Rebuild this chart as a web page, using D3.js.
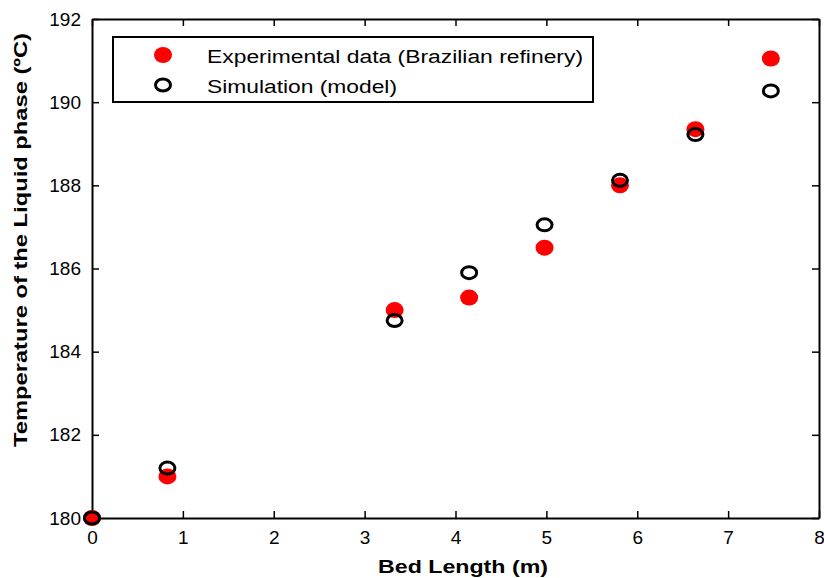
<!DOCTYPE html>
<html>
<head>
<meta charset="utf-8">
<script src="https://cdn.jsdelivr.net/npm/d3@7"></script>
<style>
  body { margin: 0; background: #fff; overflow: hidden; }
  svg { display: block; }
  text { font-family: "Liberation Sans", Arial, sans-serif; }
</style>
</head>
<body>
<div id="chart"></div>
<script>
// data
const bedLength = [0, 0.83, 3.33, 4.15, 4.98, 5.81, 6.64, 7.47];
const experimental = [180, 181, 185, 185.3, 186.5, 188, 189.35, 191.05];
const simulation = [180, 181.2, 184.75, 185.9, 187.05, 188.12, 189.22, 190.27];
const xTicks = [0, 1, 2, 3, 4, 5, 6, 7, 8];
const yTicks = [180, 182, 184, 186, 188, 190, 192];
const legendLabels = ["Experimental data (Brazilian refinery)", "Simulation (model)"];

const W = 824, H = 578;
const mg = { left: 92, right: 5, top: 19, bottom: 60 };

const svg = d3.select('#chart').append('svg')
  .attr('width', W).attr('height', H);

const xScale = d3.scaleLinear().domain([0, 8]).range([mg.left, W - mg.right]);
const yScale = d3.scaleLinear().domain([180, 192]).range([H - mg.bottom, mg.top]);

// axes, ticks pointing inward on all four sides
const tl = 7;
svg.append('g').attr('transform', `translate(0,${H - mg.bottom})`)
  .call(d3.axisBottom(xScale).tickValues(xTicks).tickSizeInner(-tl).tickSizeOuter(0).tickPadding(13))
  .call(g => g.selectAll('text').style('font-size', '19px').attr('fill', '#000'));
svg.append('g').attr('transform', `translate(0,${mg.top})`)
  .call(d3.axisTop(xScale).tickValues(xTicks).tickSizeInner(-tl).tickSizeOuter(0).tickFormat(''));
svg.append('g').attr('transform', `translate(${mg.left},0)`)
  .call(d3.axisLeft(yScale).tickValues(yTicks).tickSizeInner(-tl).tickSizeOuter(0).tickPadding(11))
  .call(g => g.selectAll('text').style('font-size', '19px').attr('fill', '#000'));
svg.append('g').attr('transform', `translate(${W - mg.right},0)`)
  .call(d3.axisRight(yScale).tickValues(yTicks).tickSizeInner(-tl).tickSizeOuter(0).tickFormat(''));

svg.selectAll('.domain').attr('stroke', '#000').attr('stroke-width', 2);
svg.selectAll('.tick line').attr('stroke', '#000').attr('stroke-width', 1.5);
svg.selectAll('.tick text').attr('font-family', null);

// axis titles (the source text is stretched wide, so fit it to the measured length)
svg.append('text')
  .attr('x', 463).attr('y', 573)
  .attr('text-anchor', 'middle')
  .attr('textLength', 170).attr('lengthAdjust', 'spacingAndGlyphs')
  .style('font-size', '19px').style('font-weight', 'bold')
  .text('Bed Length (m)');
svg.append('text')
  .attr('transform', 'translate(27,240) rotate(-90)')
  .attr('text-anchor', 'middle')
  .attr('textLength', 414).attr('lengthAdjust', 'spacingAndGlyphs')
  .style('font-size', '19px').style('font-weight', 'bold')
  .text('Temperature of the Liquid phase (\u00BAC)');

// experimental points (filled red)
svg.selectAll('.exp')
  .data(bedLength.map((x, i) => [x, experimental[i]]))
  .enter().append('ellipse')
  .attr('class', 'exp')
  .attr('cx', d => xScale(d[0]))
  .attr('cy', d => yScale(d[1]))
  .attr('rx', 9).attr('ry', 8)
  .style('fill', '#ff0000');

// simulation points (open black)
svg.selectAll('.sim')
  .data(bedLength.map((x, i) => [x, simulation[i]]))
  .enter().append('ellipse')
  .attr('class', 'sim')
  .attr('cx', d => xScale(d[0]))
  .attr('cy', d => yScale(d[1]))
  .attr('rx', 7.5).attr('ry', 6)
  .style('fill', 'none')
  .style('stroke', '#000')
  .style('stroke-width', 3);

// legend
const lgLen = [376, 190];
const lg = svg.append('g');
lg.append('rect')
  .attr('x', 113).attr('y', 37).attr('width', 480).attr('height', 65)
  .style('fill', '#fff').style('stroke', '#000').style('stroke-width', 2);
lg.append('ellipse').attr('cx', 163).attr('cy', 55).attr('rx', 9).attr('ry', 8).style('fill', '#ff0000');
lg.append('ellipse').attr('cx', 163).attr('cy', 85).attr('rx', 7.5).attr('ry', 6)
  .style('fill', 'none').style('stroke', '#000').style('stroke-width', 3);
lg.selectAll('.lgText')
  .data(legendLabels)
  .enter().append('text')
  .attr('class', 'lgText')
  .attr('x', 207)
  .attr('y', (d, i) => 63 + i * 30)
  .attr('textLength', (d, i) => lgLen[i]).attr('lengthAdjust', 'spacingAndGlyphs')
  .style('font-size', '18px')
  .text(d => d);
</script>
</body>
</html>
